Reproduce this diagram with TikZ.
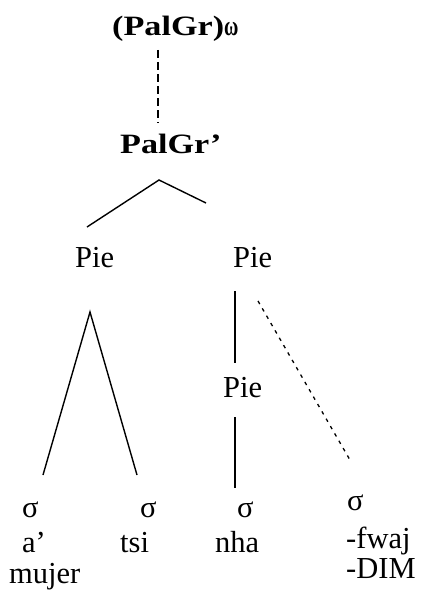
\documentclass[tikz,border=0pt]{standalone}
\usepackage{fontspec}
\setmainfont{Liberation Serif}
\usepackage{tikz}
\newcommand{\widetxt}[1]{\scalebox{1.22}[1]{#1}}
\tikzset{
  lbl/.style={anchor=base west, inner sep=0pt, font=\fontsize{30.5}{36}\selectfont},
  hd/.style={anchor=base west, inner sep=0pt, font=\bfseries\fontsize{28}{34}\selectfont},
  branch/.style={line width=1.4pt},
  assoc/.style={line width=2pt, dash pattern=on 8pt off 4pt},
  weak/.style={line width=1.3pt, dash pattern=on 3.5pt off 5pt},
}

\begin{document}
\begin{tikzpicture}[x=1pt, y=-1pt]
    \useasboundingbox (0,0) rectangle (421,594);

    % phrase level
    \node[hd] (pw) at (112,36) {\widetxt{(PalGr)}\scalebox{0.7}[1]{ω}};
    \node[hd] (pg) at (120,153) {\widetxt{PalGr’}};
    \coordinate (pw-b) at (158,50);
    \coordinate (pg-t) at (158,123);
    \draw[assoc] (pw-b) -- (pg-t);

    % feet
    \node[lbl] (pieL) at (75,267) {Pie};
    \node[lbl] (pieR) at (233,267) {Pie};
    \node[lbl] (pieM) at (223,397) {Pie};
    \coordinate (pg-v) at (159,180);
    \coordinate (pieL-t) at (87,227);
    \coordinate (pieR-t) at (206,203);
    \draw[branch] (pieL-t) -- (pg-v) -- (pieR-t);

    % syllables
    \node[lbl] (s1) at (22,517) {σ};
    \node[lbl] (s2) at (140,517) {σ};
    \node[lbl] (s3) at (237,517) {σ};
    \node[lbl] (s4) at (347,510) {σ};
    \coordinate (pieL-v) at (90,312);
    \coordinate (s1-t) at (43,475);
    \coordinate (s2-t) at (137,475);
    \draw[branch] (s1-t) -- (pieL-v) -- (s2-t);
    \coordinate (pieR-b) at (235,291);
    \coordinate (pieM-t) at (235,363);
    \coordinate (pieM-b) at (235,417);
    \coordinate (s3-t) at (235,488);
    \draw[branch] (pieR-b) -- (pieM-t);
    \draw[branch] (pieM-b) -- (s3-t);
    \coordinate (pieR-d) at (258,301);
    \coordinate (s4-t) at (350,460);
    \draw[weak] (pieR-d) -- (s4-t);

    % segments and glosses
    \node[lbl] (w1) at (22,552) {a'};
    \node[lbl] (w2) at (120,552) {tsi};
    \node[lbl] (w3) at (215,552) {nha};
    \node[lbl] (w4) at (346,548) {-fwaj};
    \node[lbl] (g1) at (9,583) {mujer};
    \node[lbl] (g4) at (346,578) {-DIM};
\end{tikzpicture}
\end{document}
